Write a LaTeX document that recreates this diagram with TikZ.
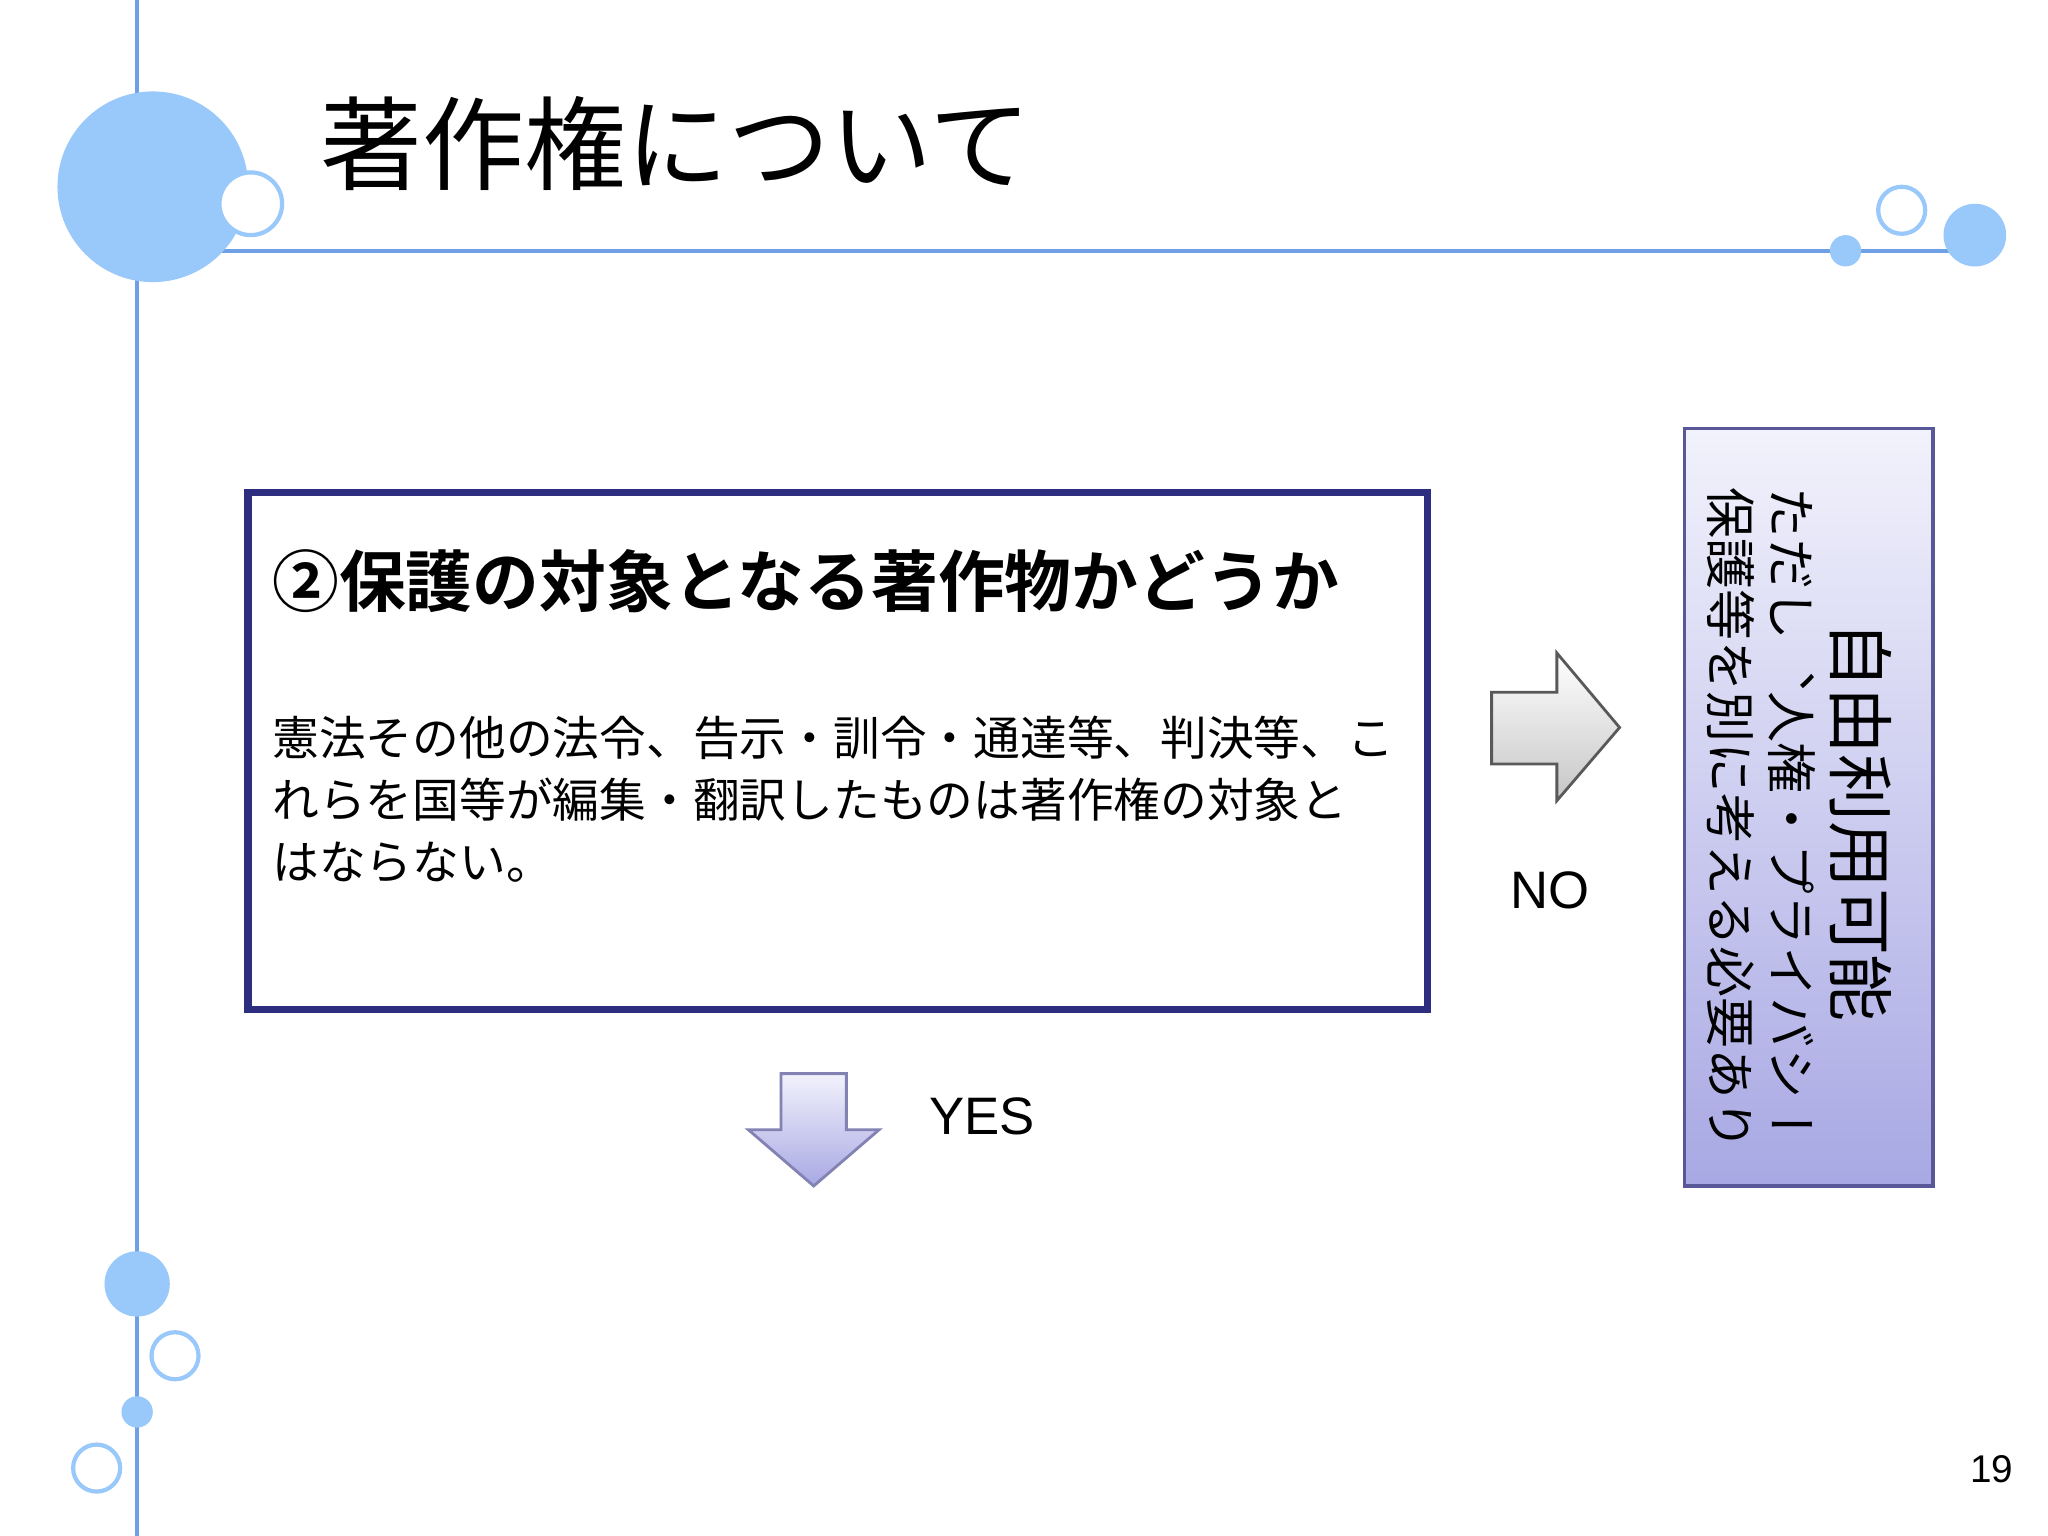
\documentclass[tikz,border=0pt]{standalone}
\usepackage{fontspec}
\setmainfont{Liberation Sans}
\newfontfamily\jp{Noto Sans CJK JP}
\newfontfamily\jpb{Noto Sans CJK JP Bold}
\newfontfamily\vjp[Vertical=RotatedGlyphs]{Noto Sans CJK JP}
\usetikzlibrary{shadings}
\definecolor{deco}{HTML}{99C8FA}
\definecolor{decoline}{HTML}{6FA0E6}
\definecolor{boxline}{HTML}{2E2E80}
\definecolor{lavtop}{HTML}{F2F2FC}
\definecolor{lavbot}{HTML}{A8A8E4}
\tikzset{fillc/.style={fill=deco,draw=none},
  openc/.style={fill=white,draw=deco,line width=1.2pt},
  lbl/.style={inner sep=0pt,anchor=west}}
\begin{document}
\begin{tikzpicture}[x=0.013061cm,y=-0.013061cm]
\useasboundingbox (0,0) rectangle (1568,1176);
\fill[white] (0,0) rectangle (1568,1176);
\draw[decoline,line width=1pt] (105,0) -- (105,1176);
\draw[decoline,line width=1pt] (170,192) -- (1500,192);
\fill[fillc] (117,143) circle (73);
\draw[openc] (192,156) circle (24);
\fill[fillc] (1413,192) circle (12);
\draw[openc] (1456,161) circle (18);
\fill[fillc] (1512,180) circle (24);
\fill[fillc] (105,983) circle (25);
\draw[openc] (134,1038) circle (18);
\fill[fillc] (105,1081) circle (12);
\draw[openc] (74,1124) circle (18);
\node[lbl] (title) at (245,110) {\jp\fontsize{29}{32}\selectfont 著作権について};
\node[inner sep=0pt] (page) at (1525,1125) {\fontsize{11}{13}\selectfont 19};
\draw[boxline,line width=2.2pt] (190,377) rectangle (1093,773);
\coordinate (mainbox) at (641,575);
\node[lbl] (head) at (208,445) {\jpb\fontsize{19}{22}\selectfont ②保護の対象となる著作物かどうか};
\node[lbl,align=left,anchor=north west,font=\jp\fontsize{13.3}{17.6}\selectfont] (body) at (208,548) {憲法その他の法令、告示・訓令・通達等、判決等、こ\\れらを国等が編集・翻訳したものは著作権の対象と\\はならない。};
% right arrow
\shade[top color=white,bottom color=gray!45,draw=gray!70!black,line width=0.8pt]
 (1142,530) -- (1192,530) -- (1192,500) -- (1240,557) -- (1192,613) -- (1192,585) -- (1142,585) -- cycle;
\node[inner sep=0pt] (no) at (1187,682) {\fontsize{15}{18}\selectfont NO};
% down arrow
\shade[top color=lavtop,bottom color=lavbot,draw=boxline!60,line width=0.8pt]
 (598,822) -- (648,822) -- (648,865) -- (673,865) -- (623,908) -- (573,865) -- (598,865) -- cycle;
\node[inner sep=0pt] (yes) at (752,855) {\fontsize{15}{18}\selectfont YES};
% right box
\shade[top color=lavtop,bottom color=lavbot,draw=boxline!80,line width=0.9pt] (1290,328) rectangle (1480,908);
\node[rotate=-90,inner sep=0pt,anchor=west] (free) at (1425,475) {\vjp\fontsize{19}{22}\selectfont 自由利用可能};
\node[rotate=-90,inner sep=0pt,anchor=west] (note1) at (1372,373) {\vjp\fontsize{14.5}{17}\selectfont ただし、人権・プライバシー};
\node[rotate=-90,inner sep=0pt,anchor=west] (note2) at (1325,373) {\vjp\fontsize{14.5}{17}\selectfont 保護等を別に考える必要あり};
\end{tikzpicture}
\end{document}
